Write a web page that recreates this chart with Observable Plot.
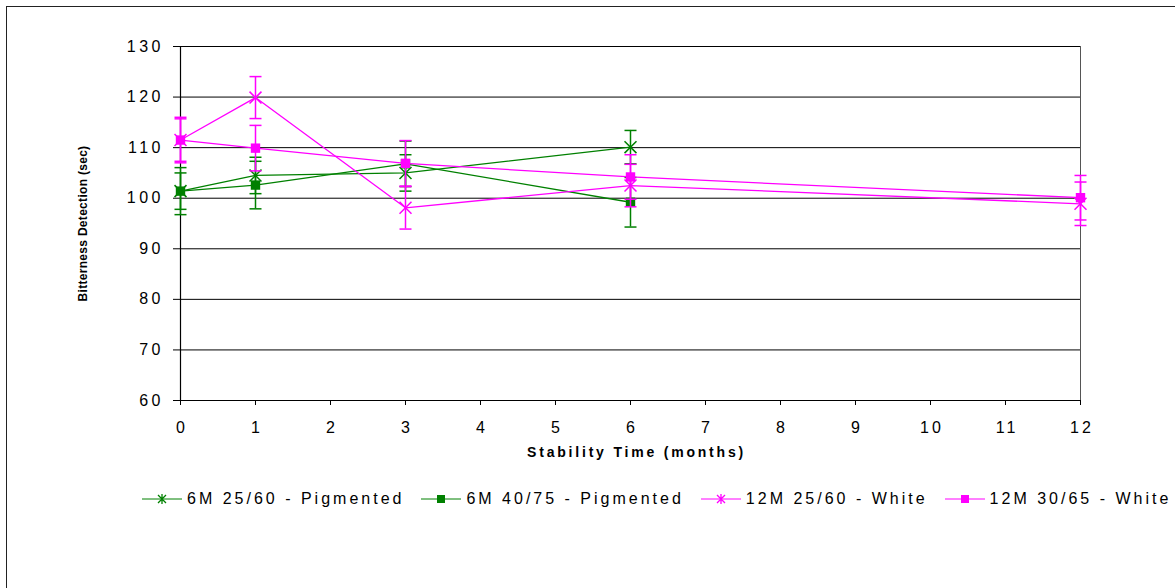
<!DOCTYPE html>
<html><head><meta charset="utf-8">
<script src="https://cdn.jsdelivr.net/npm/d3@7"></script>
<script src="https://cdn.jsdelivr.net/npm/@observablehq/plot@0.6"></script>
<style>
html,body{margin:0;padding:0;overflow:hidden;background:#fff;width:1175px;height:588px;}
#frame{position:absolute;left:6px;top:6px;width:1400px;height:800px;border-left:1.5px solid #222;border-top:1.5px solid #222;}
#chart{position:absolute;left:0;top:0;}
#legend{position:absolute;left:142px;top:490px;height:18px;display:flex;align-items:center;font-family:"Liberation Sans",Arial,sans-serif;font-size:16px;letter-spacing:3px;color:#000;white-space:nowrap;}
.item{display:flex;align-items:center;margin-right:17px;}
.item svg{margin-right:5px;}
</style></head><body>
<div id="frame"></div><div id="chart"></div><div id="legend"></div>
<script>
// ---- data ----
const months6 = [0, 1, 3, 6];
const months12 = [0, 1, 3, 6, 12];
const pig2560 = [101.4, 104.5, 105.0, 110.1];
const pig2560Err = [3.6, 3.6, 3.6, 3.3];
const pig4075 = [101.4, 102.6, 106.8, 99.2];
const pig4075Err = [4.65, 4.7, 4.5, 4.9];
const white2560 = [111.5, 119.9, 98.1, 102.5, 98.9];
const white2560Err = [4.2, 4.15, 4.2, 4.2, 4.3];
const white3065 = [111.5, 109.9, 106.9, 104.2, 100.1];
const white3065Err = [4.5, 4.5, 4.5, 4.4, 4.4];
const seriesNames = ["6M 25/60 - Pigmented", "6M 40/75 - Pigmented", "12M 25/60 - White", "12M 30/65 - White"];
const seriesColors = ["#008000", "#008000", "#FF00FF", "#FF00FF"];
const seriesMarkers = ["times", "square", "times", "square"];
const xTicks = [0,1,2,3,4,5,6,7,8,9,10,11,12];
const yTicks = [60,70,80,90,100,110,120,130];
const xLabel = "Stability Time (months)";
const yLabel = "Bitterness Detection (sec)";

const seriesData = [
  [months6, pig2560, pig2560Err],
  [months6, pig4075, pig4075Err],
  [months12, white2560, white2560Err],
  [months12, white3065, white3065Err]
];

const capSymbol = {draw(ctx) { ctx.moveTo(-6, 0); ctx.lineTo(6, 0); }};

const marks = [
  Plot.ruleY(yTicks, {stroke: "#000", strokeWidth: 1}),
  Plot.ruleX([12], {stroke: "#555", strokeWidth: 1}),
  Plot.ruleX([0], {stroke: "#000", strokeWidth: 1.2}),
  Plot.ruleY([60], {stroke: "#000", strokeWidth: 1.2})
];

seriesData.forEach(([xs, vs, es], i) => {
  const rows = xs.map((m, j) => ({month: m, value: vs[j], err: es[j]}));
  const color = seriesColors[i];
  marks.push(
    Plot.ruleX(rows, {x: "month", y1: d => d.value - d.err, y2: d => d.value + d.err, stroke: color, strokeWidth: 1.5}),
    Plot.dot(rows, {x: "month", y: d => d.value + d.err, symbol: capSymbol, stroke: color, strokeWidth: 1.5, fill: "none"}),
    Plot.dot(rows, {x: "month", y: d => d.value - d.err, symbol: capSymbol, stroke: color, strokeWidth: 1.5, fill: "none"}),
    Plot.line(rows, {x: "month", y: "value", stroke: color, strokeWidth: 1.3}),
    seriesMarkers[i] === "square"
      ? Plot.dot(rows, {x: "month", y: "value", symbol: "square", r: 5.3, fill: color, stroke: "none"})
      : Plot.dot(rows, {x: "month", y: "value", symbol: "times", r: 5.5, stroke: color, strokeWidth: 1.5, fill: "none"})
  );
});

marks.push(
  Plot.text([yLabel], {text: d => d, frameAnchor: "left", dx: -97, rotate: -90, textAnchor: "middle", fontSize: 12, fontWeight: "bold"}),
  Plot.text([xLabel], {text: d => d, frameAnchor: "bottom", dy: 56, dx: 6, textAnchor: "middle", fontSize: 14, fontWeight: "bold"})
);

const chart = Plot.plot({
  width: 1175,
  height: 470,
  marginLeft: 180,
  marginRight: 95,
  marginTop: 46,
  marginBottom: 70,
  style: {background: "none", fontFamily: "'Liberation Sans', Arial, sans-serif", fontSize: "16px", color: "#000"},
  x: {domain: [0, 12], ticks: xTicks, tickSize: 5, tickPadding: 16, label: null, tickFormat: d => String(d)},
  y: {domain: [60, 130], ticks: yTicks, tickSize: 7, tickPadding: 9.5, label: null, tickFormat: d => String(d)},
  marks
});
document.getElementById("chart").appendChild(chart);

const xTickSet = new Set(xTicks.map(String));
const yTickSet = new Set(yTicks.map(String));
d3.select(chart).selectAll("text").each(function() {
  const t = this.textContent;
  const sel = d3.select(this);
  if (t === xLabel) sel.style("letter-spacing", "2.8px");
  else if (t === yLabel) sel.style("letter-spacing", "0.3px");
  else if (yTickSet.has(t) && /y/i.test(this.closest("g[aria-label]")?.getAttribute("aria-label") || "")) sel.style("letter-spacing", "3.5px");
  else if (xTickSet.has(t)) sel.style("letter-spacing", "3px").attr("dx", 1.5);
});

// ---- legend ----
const legend = d3.select("#legend");
seriesNames.forEach((name, i) => {
  const item = legend.append("div").attr("class", "item");
  const s = item.append("svg").attr("width", 40).attr("height", 16);
  const c = seriesColors[i];
  s.append("line").attr("x1", 0).attr("x2", 40).attr("y1", 8).attr("y2", 8).attr("stroke", c).attr("stroke-width", 1);
  if (seriesMarkers[i] === "square") {
    s.append("rect").attr("x", 16).attr("y", 4).attr("width", 8).attr("height", 8).attr("fill", c);
  } else {
    s.append("path").attr("d", "M16,4L24,12M16,12L24,4M20,3L20,13").attr("stroke", c).attr("stroke-width", 1.3).attr("fill", "none");
  }
  item.append("span").text(name);
});
</script>
</body></html>
